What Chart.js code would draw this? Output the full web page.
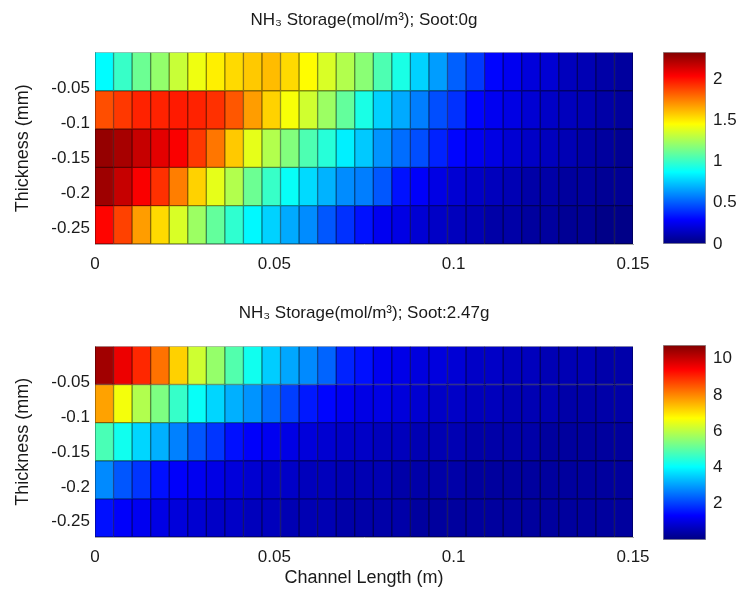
<!DOCTYPE html>
<html>
<head>
<meta charset="utf-8">
<script src="https://cdn.jsdelivr.net/npm/chart.js@4.4.1/dist/chart.umd.min.js"></script>
<style>
  body { margin: 0; background: #fff; }
  .box { position: absolute; }
</style>
</head>
<body>
<div class="box" style="left:0;top:0;width:650px;height:290px"><canvas id="heatTop"></canvas></div>
<div class="box" style="left:650px;top:0;width:88px;height:290px"><canvas id="barTop"></canvas></div>
<div class="box" style="left:0;top:290px;width:650px;height:301px"><canvas id="heatBottom"></canvas></div>
<div class="box" style="left:650px;top:290px;width:88px;height:301px"><canvas id="barBottom"></canvas></div>
<script>
// layers of the washcoat, top to bottom
const layers = ['layer 1', 'layer 2', 'layer 3', 'layer 4', 'layer 5'];
const channelLength = 0.15;

const lengthTicks = [0, 0.05, 0.1, 0.15];
const depthTicks = [-0.05, -0.1, -0.15, -0.2, -0.25];
const depthRange = [-0.272, 0.002];

// NH3 storage, soot 0 g (one list per layer, 29 cells along the channel)
const soot0 = [
  [0.87,1.00,1.12,1.21,1.33,1.42,1.49,1.54,1.58,1.61,1.54,1.46,1.37,1.28,1.19,1.05,0.93,0.77,0.65,0.51,0.42,0.30,0.26,0.21,0.19,0.14,0.12,0.09,0.07],
  [1.86,1.91,1.96,1.96,1.98,1.96,1.93,1.84,1.68,1.56,1.44,1.35,1.23,1.10,0.93,0.77,0.68,0.58,0.47,0.40,0.30,0.26,0.23,0.19,0.16,0.14,0.12,0.09,0.07],
  [2.28,2.24,2.17,2.10,2.05,1.91,1.77,1.58,1.40,1.28,1.17,1.05,0.96,0.84,0.75,0.63,0.54,0.47,0.37,0.30,0.26,0.23,0.19,0.16,0.14,0.12,0.09,0.07,0.05],
  [2.26,2.17,2.05,1.93,1.75,1.56,1.40,1.28,1.12,1.00,0.89,0.79,0.70,0.61,0.58,0.49,0.33,0.28,0.23,0.19,0.16,0.14,0.12,0.09,0.09,0.07,0.07,0.05,0.05],
  [2.03,1.89,1.68,1.54,1.37,1.23,1.10,0.98,0.86,0.77,0.68,0.61,0.49,0.40,0.33,0.26,0.23,0.19,0.16,0.14,0.12,0.09,0.09,0.07,0.07,0.05,0.05,0.02,0.02]
];
const soot0Range = [0, 2.33];
const soot0Ticks = [0, 0.5, 1, 1.5, 2];

// NH3 storage, soot 2.47 g
const soot247 = [
  [10.4,9.6,9.0,8.2,7.2,6.2,5.6,4.9,4.2,3.5,3.1,2.8,2.4,1.7,1.5,1.2,1.1,1.0,1.0,0.9,0.75,0.75,0.65,0.65,0.55,0.55,0.55,0.45,0.45],
  [7.7,6.6,5.9,5.35,4.6,4.1,3.6,3.2,2.9,2.5,2.0,1.6,1.4,1.2,1.07,1.07,0.96,0.86,0.75,0.75,0.64,0.64,0.54,0.54,0.54,0.43,0.43,0.43,0.43],
  [4.8,4.2,3.6,3.2,2.7,2.25,1.9,1.5,1.3,1.2,1.07,0.96,0.86,0.75,0.75,0.64,0.64,0.54,0.54,0.54,0.43,0.43,0.43,0.43,0.32,0.32,0.32,0.32,0.32],
  [2.8,2.25,1.9,1.5,1.3,1.2,1.07,0.96,0.86,0.75,0.75,0.64,0.64,0.54,0.54,0.54,0.43,0.43,0.43,0.43,0.32,0.32,0.32,0.32,0.32,0.32,0.32,0.32,0.32],
  [1.5,1.3,1.2,1.07,0.96,0.86,0.75,0.75,0.64,0.64,0.54,0.54,0.54,0.43,0.43,0.43,0.43,0.32,0.32,0.32,0.32,0.32,0.32,0.32,0.32,0.32,0.32,0.32,0.32]
];
const soot247Range = [0, 10.75];
const soot247Ticks = [2, 4, 6, 8, 10];

Chart.defaults.font.family = '"Liberation Sans", Arial, sans-serif';
Chart.defaults.color = '#1a1a1a';

function jetRgb(t) {
  t = Math.min(1, Math.max(0, t));
  const c = x => 255 * Math.min(1, Math.max(0, 1.5 - Math.abs(x)));
  return [c(4 * t - 3), c(4 * t - 2), c(4 * t - 1)];
}
function jet(t, k) {
  const rgb = jetRgb(t).map(v => Math.round(v * (k || 1)));
  return 'rgb(' + rgb.join(',') + ')';
}

// drop the extra room Chart.js keeps for half-labels at the ends
const noEndPadding = s => { s.paddingLeft = 0; s.paddingRight = 0; s.paddingTop = 0; s.paddingBottom = 0; };

function heatmap(id, grid, range, title, opts) {
  const nCells = grid[0].length;
  const dx = channelLength / nCells;
  const norm = v => (v - range[0]) / (range[1] - range[0]);
  const datasets = grid.map((row, r) => ({
    data: row.map((v, i) => ({ x: [i * dx, (i + 1) * dx], y: layers[r] })),
    backgroundColor: row.map(v => jet(norm(v))),
    borderColor: row.map(v => jet(norm(v), 0.55)),
    borderWidth: 1,
    borderSkipped: false,
    barPercentage: 1,
    categoryPercentage: 1,
    grouped: false,
    yAxisID: 'rows'
  }));

  return new Chart(document.getElementById(id), {
    type: 'bar',
    data: { labels: layers, datasets: datasets },
    options: {
      indexAxis: 'y',
      responsive: true,
      maintainAspectRatio: false,
      animation: false,
      layout: { padding: { left: 8, right: 17, top: 0, bottom: 0 } },
      plugins: {
        legend: { display: false },
        tooltip: { enabled: false },
        title: {
          display: true,
          text: title,
          fullSize: false,
          font: { size: 17, weight: 'normal' },
          color: '#1a1a1a',
          padding: opts.titlePad
        }
      },
      scales: {
        x: {
          type: 'linear',
          position: 'bottom',
          min: 0,
          max: channelLength,
          offset: false,
          grid: { display: false, drawTicks: false },
          border: { display: true, color: '#aaa' },
          ticks: { padding: 10, font: { size: 17 }, callback: v => String(v) },
          afterBuildTicks: s => { s.ticks = lengthTicks.map(v => ({ value: v })); },
          afterFit: s => { s.height = opts.xHeight; noEndPadding(s); },
          title: {
            display: opts.xTitle,
            text: 'Channel Length (m)',
            font: { size: 18 },
            padding: { top: 2, bottom: 2 }
          }
        },
        rows: {
          type: 'category',
          axis: 'y',
          labels: layers,
          display: false,
          offset: true
        },
        depth: {
          type: 'linear',
          axis: 'y',
          position: 'left',
          min: depthRange[0],
          max: depthRange[1],
          offset: false,
          grid: { display: false, drawTicks: false, offset: false },
          border: { display: true, color: '#aaa' },
          ticks: { padding: 5, font: { size: 17 }, callback: v => String(v) },
          afterBuildTicks: s => { s.ticks = depthTicks.map(v => ({ value: v })); },
          afterFit: s => { s.width = 87; noEndPadding(s); },
          title: {
            display: true,
            text: 'Thickness (mm)',
            font: { size: 18 },
            padding: { top: 4, bottom: 0 }
          }
        }
      }
    }
  });
}

function colorbar(id, range, ticks, pad) {
  const gradient = ctx => {
    const chart = ctx.chart;
    if (!chart.chartArea) return null;
    const y = chart.scales.y;
    const g = chart.ctx.createLinearGradient(0, y.getPixelForValue(range[0]), 0, y.getPixelForValue(range[1]));
    for (let k = 0; k <= 8; k++) g.addColorStop(k / 8, jet(k / 8));
    return g;
  };
  return new Chart(document.getElementById(id), {
    type: 'bar',
    data: {
      labels: ['scale'],
      datasets: [{
        data: [range],
        backgroundColor: gradient,
        borderColor: '#999',
        borderWidth: 1,
        borderSkipped: false,
        barPercentage: 1,
        categoryPercentage: 1
      }]
    },
    options: {
      responsive: true,
      maintainAspectRatio: false,
      animation: false,
      layout: { padding: pad },
      plugins: { legend: { display: false }, tooltip: { enabled: false } },
      scales: {
        x: { display: false },
        y: {
          position: 'right',
          min: range[0],
          max: range[1],
          grid: { display: false, drawTicks: false },
          border: { display: false },
          ticks: { padding: 7, font: { size: 17 }, callback: v => String(v) },
          afterBuildTicks: s => { s.ticks = ticks.map(v => ({ value: v })); },
          afterFit: s => { s.width = 32; noEndPadding(s); }
        }
      }
    }
  });
}

heatmap('heatTop', soot0, soot0Range, 'NH\u2083 Storage(mol/m\u00b3); Soot:0g',
  { titlePad: { top: 10, bottom: 22 }, xHeight: 46, xTitle: false });
heatmap('heatBottom', soot247, soot247Range, 'NH\u2083 Storage(mol/m\u00b3); Soot:2.47g',
  { titlePad: { top: 13, bottom: 23 }, xHeight: 54, xTitle: true });
colorbar('barTop', soot0Range, soot0Ticks, { left: 13, right: 0, top: 52, bottom: 46 });
colorbar('barBottom', soot247Range, soot247Ticks, { left: 13, right: 0, top: 55, bottom: 51 });
</script>
</body>
</html>
